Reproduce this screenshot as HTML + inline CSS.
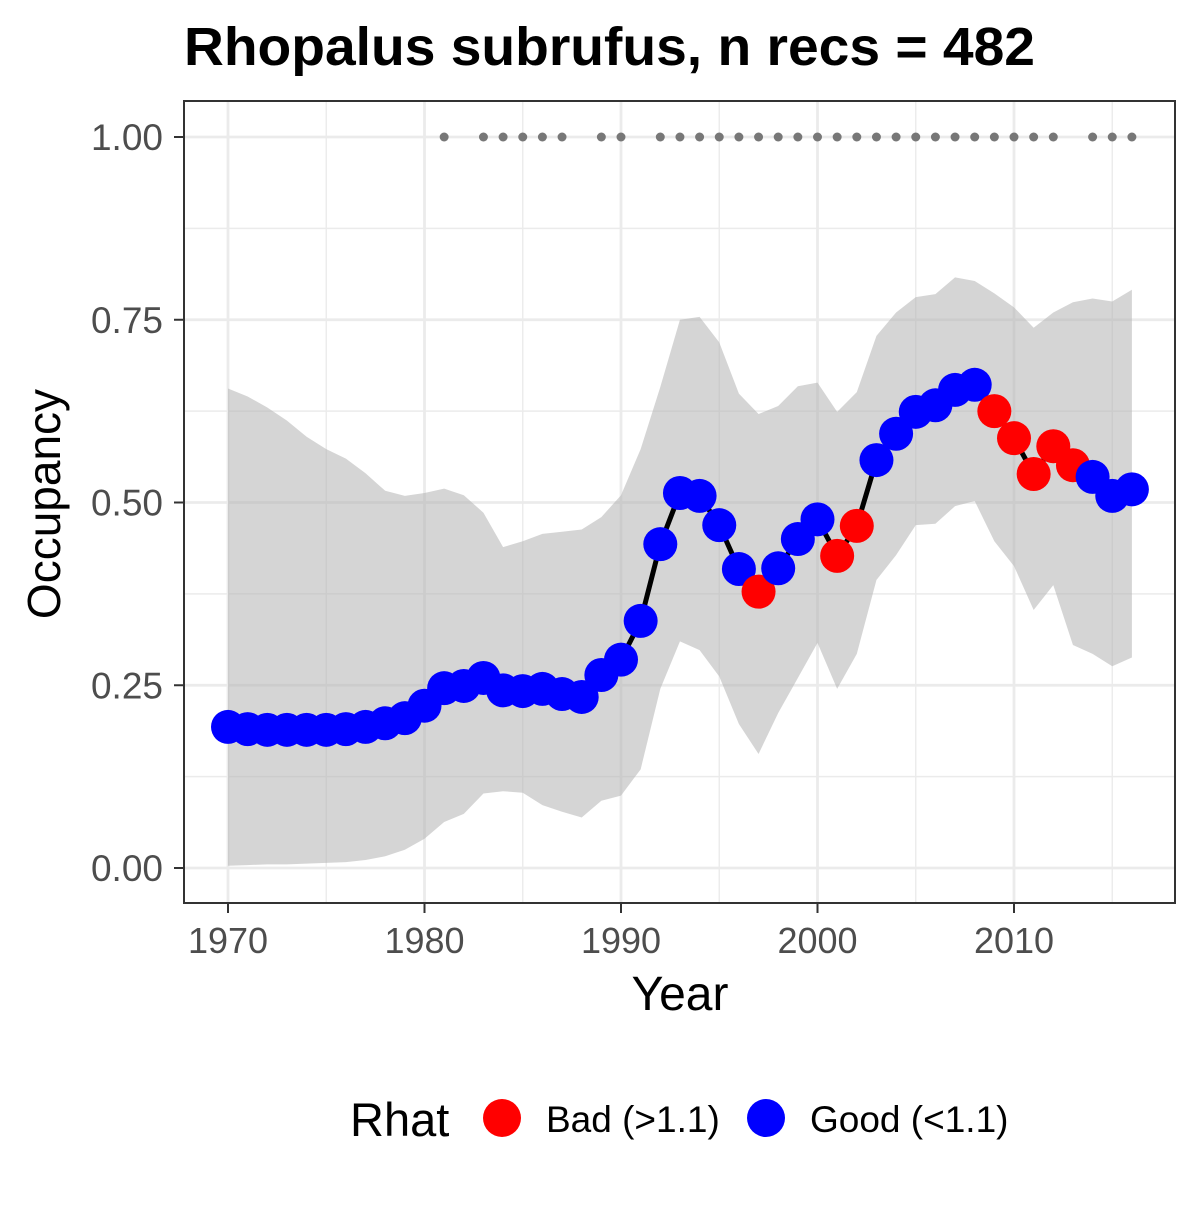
<!DOCTYPE html>
<html><head><meta charset="utf-8"><style>
body{margin:0;background:#fff;}
svg text{font-family:"Liberation Sans",Arial,sans-serif;}
</style></head><body>
<svg id="chart" width="1200" height="1200" xmlns="http://www.w3.org/2000/svg">
<rect width="1200" height="1200" fill="#fff"/>
<text x="184" y="65" font-size="54" font-weight="bold" fill="#000" textLength="851" lengthAdjust="spacingAndGlyphs">Rhopalus subrufus, n recs = 482</text>
<g id="grid"></g>
<g id="band"></g>
<g id="line"></g>
<g id="pts"></g>
<g id="dots"></g>
<rect x="184" y="101" width="991" height="802" fill="none" stroke="#333" stroke-width="2"/>
<g id="axes"></g>
<text x="680" y="1010" font-size="48" text-anchor="middle" fill="#000">Year</text>
<text transform="translate(60,504) rotate(-90)" font-size="46" text-anchor="middle" fill="#000">Occupancy</text>
<g>
<text x="350" y="1136" font-size="47" fill="#000">Rhat</text>
<circle cx="502" cy="1118" r="19" fill="#ff0000"/>
<text x="546" y="1132" font-size="37" fill="#000">Bad (&gt;1.1)</text>
<circle cx="766" cy="1118" r="19" fill="#0000ff"/>
<text x="810" y="1132" font-size="37" fill="#000">Good (&lt;1.1)</text>
</g>
</svg>
<script>
const years=[1970,1971,1972,1973,1974,1975,1976,1977,1978,1979,1980,1981,1982,1983,1984,1985,1986,1987,1988,1989,1990,1991,1992,1993,1994,1995,1996,1997,1998,1999,2000,2001,2002,2003,2004,2005,2006,2007,2008,2009,2010,2011,2012,2013,2014,2015,2016];
const occ=[.193,.19,.189,.189,.189,.189,.19,.193,.198,.205,.222,.246,.249,.26,.243,.242,.245,.238,.234,.264,.285,.338,.443,.513,.509,.469,.409,.378,.41,.45,.477,.427,.468,.558,.594,.624,.633,.654,.661,.625,.588,.539,.577,.551,.535,.509,.518];
const upper=[.656,.645,.63,.612,.59,.573,.56,.54,.516,.509,.513,.519,.51,.486,.439,.447,.457,.46,.463,.48,.51,.573,.658,.75,.754,.719,.649,.621,.632,.659,.664,.624,.651,.728,.76,.781,.785,.808,.803,.786,.767,.739,.76,.774,.779,.775,.791];
const lower=[.003,.004,.005,.005,.006,.007,.008,.011,.016,.025,.04,.063,.074,.102,.105,.103,.086,.077,.069,.092,.099,.135,.245,.31,.298,.262,.197,.156,.212,.26,.308,.245,.293,.394,.428,.469,.471,.495,.502,.447,.413,.353,.387,.305,.293,.276,.288];
const badYears=[1997,2001,2002,2009,2010,2011,2012,2013];
const recYears=[1981,1983,1984,1985,1986,1987,1989,1990,1992,1993,1994,1995,1996,1997,1998,1999,2000,2001,2002,2003,2004,2005,2006,2007,2008,2009,2010,2011,2012,2014,2015,2016];
const xTicks=[1970,1980,1990,2000,2010];
const yTicks=[0,0.25,0.5,0.75,1.0];
const yTickLabels=["0.00","0.25","0.50","0.75","1.00"];

const X=y=>228+(y-1970)*19.65;
const Y=v=>868-v*731;
const NS="http://www.w3.org/2000/svg";
function mk(tag,attrs,parent){const e=document.createElementNS(NS,tag);for(const k in attrs)e.setAttribute(k,attrs[k]);document.getElementById(parent).appendChild(e);return e;}

for(let v=0;v<=1.0001;v+=0.125){const major=Math.abs(v*4-Math.round(v*4))<1e-6;
 const l=mk('line',{x1:184,x2:1175,y1:Y(v),y2:Y(v),stroke:'#ebebeb','stroke-width':major?2.8:1.4},'grid');
 
 }
for(let yr=1970;yr<=2015;yr+=5){const major=yr%10===0;
 const l=mk('line',{x1:X(yr),x2:X(yr),y1:101,y2:903,stroke:'#ebebeb','stroke-width':major?2.8:1.4},'grid');
 
 }

let d='M'+years.map((yr,i)=>X(yr)+','+Y(upper[i])).join('L');
for(let i=years.length-1;i>=0;i--)d+='L'+X(years[i])+','+Y(lower[i]);
const band=mk('path',{d:d+'Z',fill:'#b3b3b3','fill-opacity':0.55},'band');



const ln=mk('polyline',{points:years.map((yr,i)=>X(yr)+','+Y(occ[i])).join(' '),fill:'none',stroke:'#000','stroke-width':5},'line');



years.forEach((yr,i)=>{const bad=badYears.includes(yr);
 const c=mk('circle',{cx:X(yr),cy:Y(occ[i]),r:17,fill:bad?'#ff0000':'#0000ff'},'pts');
 
 });

recYears.forEach(yr=>{const c=mk('circle',{cx:X(yr),cy:Y(1),r:4.5,fill:'#777'},'dots');
 
 });

xTicks.forEach(t=>{const l=mk('line',{x1:X(t),x2:X(t),y1:903,y2:913,stroke:'#333','stroke-width':2},'axes');
 
 
 const tx=mk('text',{x:X(t),y:953,'font-size':36,'text-anchor':'middle',fill:'#4d4d4d'},'axes');tx.textContent=t;
 
 });
yTicks.forEach((t,i)=>{const l=mk('line',{x1:174,x2:184,y1:Y(t),y2:Y(t),stroke:'#333','stroke-width':2},'axes');
 
 
 const tx=mk('text',{x:163,y:Y(t)+13,'font-size':37,'text-anchor':'end',fill:'#4d4d4d'},'axes');tx.textContent=yTickLabels[i];
 
 });
</script>
</body></html>
